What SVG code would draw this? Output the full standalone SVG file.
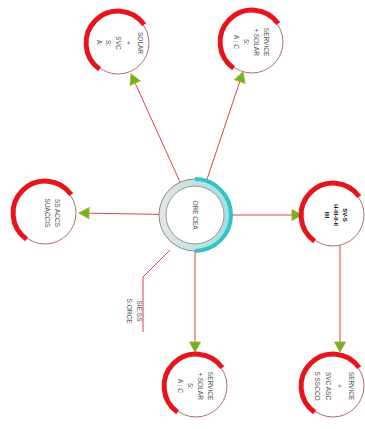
<svg xmlns="http://www.w3.org/2000/svg" width="365" height="429" viewBox="0 0 365 429">
<style>
.sat{fill:#fff;stroke:#b07070;stroke-width:1}
.arc{fill:none;stroke:#e8141c;stroke-width:5}
.con{stroke:#d9474a;stroke-width:1;fill:none}
.t{font-family:"Liberation Sans",Arial,sans-serif;font-size:6.5px;fill:#555;text-anchor:middle}
.tb{font-family:"Liberation Sans",Arial,sans-serif;font-size:6px;fill:#111;font-weight:bold;text-anchor:middle}
</style>
<defs>
<marker id="ah" markerUnits="userSpaceOnUse" markerWidth="16" markerHeight="16" refX="11" refY="6.5" orient="auto">
<path d="M1,1 L11,6.5 L1,12 Z" fill="#5dbb2a" stroke="#c9a227" stroke-width="1"/>
</marker>
<linearGradient id="hubg" x1="0" y1="0" x2="1" y2="0">
<stop offset="0" stop-color="#e6e6e6"/>
<stop offset="1" stop-color="#9fe0e0"/>
</linearGradient>
</defs>
<g id="connectors">
<line class="con" x1="195" y1="215" x2="131" y2="74" marker-end="url(#ah)"/>
<line class="con" x1="195" y1="215" x2="243" y2="72" marker-end="url(#ah)"/>
<line class="con" x1="195" y1="215" x2="79" y2="213" marker-end="url(#ah)"/>
<line class="con" x1="195" y1="215" x2="302" y2="215" marker-end="url(#ah)"/>
<line class="con" x1="195" y1="215" x2="195" y2="352" marker-end="url(#ah)"/>
<line class="con" x1="340" y1="215" x2="340" y2="352" marker-end="url(#ah)"/>
<polyline class="con" points="170,250 143,277 143,332"/>
</g>
<g id="hub">
<circle cx="195" cy="215" r="36" fill="url(#hubg)" stroke="#8a8a8a" stroke-width="1"/>
<path d="M 195 179 A 36 36 0 0 1 195 251" fill="none" stroke="#35c3c8" stroke-width="4"/>
<circle cx="195" cy="215" r="29" fill="#fff" stroke="#9a9a9a" stroke-width="1"/>
<text class="t" transform="translate(193,215) rotate(90)" font-size="8">ORE CEA</text>
</g>
<g id="n-topleft" transform="translate(118,43)">
<circle class="sat" r="31"/>
<path class="arc" d="M -18.4 26.2 A 32 32 0 1 1 26.2 -18.4"/>
<text class="t" transform="translate(20,0) rotate(90)">SOLAR</text>
<text class="t" transform="translate(8,0) rotate(90)">+</text>
<text class="t" transform="translate(-2,0) rotate(90)">SVC</text>
<text class="t" transform="translate(-12,0) rotate(90)">S:</text>
<text class="t" transform="translate(-21,0) rotate(90)">A:</text>
</g>
<g id="n-topright" transform="translate(252,42)">
<circle class="sat" r="31"/>
<path class="arc" d="M -18.4 26.2 A 32 32 0 1 1 26.2 -18.4"/>
<text class="t" transform="translate(12,0) rotate(90)">SERVICE</text>
<text class="t" transform="translate(2,0) rotate(90)">+ SOLAR</text>
<text class="t" transform="translate(-8,0) rotate(90)">S:</text>
<text class="t" transform="translate(-18,0) rotate(90)">A : C</text>
</g>
<g id="n-left" transform="translate(45,213)">
<circle class="sat" r="31"/>
<path class="arc" d="M -18.4 26.2 A 32 32 0 1 1 26.2 -18.4"/>
<text class="t" transform="translate(10,0) rotate(90)">SS ACCS</text>
<text class="t" transform="translate(0,0) rotate(90)">SUACCIS</text>
</g>
<g id="n-right" transform="translate(333,215)">
<circle class="sat" r="31"/>
<path class="arc" d="M -18.4 26.2 A 32 32 0 1 1 26.2 -18.4"/>
<text class="tb" transform="translate(10,0) rotate(90)">SV-S</text>
<text class="tb" transform="translate(1,0) rotate(90)">H-III-II-II</text>
<text class="tb" transform="translate(-8,0) rotate(90)">IIII</text>
</g>
<g id="n-bottom" transform="translate(196,386)">
<circle class="sat" r="31"/>
<path class="arc" d="M -18.4 26.2 A 32 32 0 1 1 26.2 -18.4"/>
<text class="t" transform="translate(12,0) rotate(90)">SERVICE</text>
<text class="t" transform="translate(2,0) rotate(90)">+ SOLAR</text>
<text class="t" transform="translate(-8,0) rotate(90)">S:</text>
<text class="t" transform="translate(-18,0) rotate(90)">A : C</text>
</g>
<g id="n-bottomright" transform="translate(333,386)">
<circle class="sat" r="31"/>
<path class="arc" d="M -18.4 26.2 A 32 32 0 1 1 26.2 -18.4"/>
<text class="t" transform="translate(16,0) rotate(90)">SERVICE</text>
<text class="t" transform="translate(4,0) rotate(90)">+</text>
<text class="t" transform="translate(-7,0) rotate(90)">SVC ASC</text>
<text class="t" transform="translate(-18,0) rotate(90)">S SSCCO</text>
</g>
<g id="label">
<text class="t" transform="translate(137,311) rotate(90)">SIE:SS</text>
<text class="t" transform="translate(127,311) rotate(90)">S:ORCE</text>
</g>
</svg>
